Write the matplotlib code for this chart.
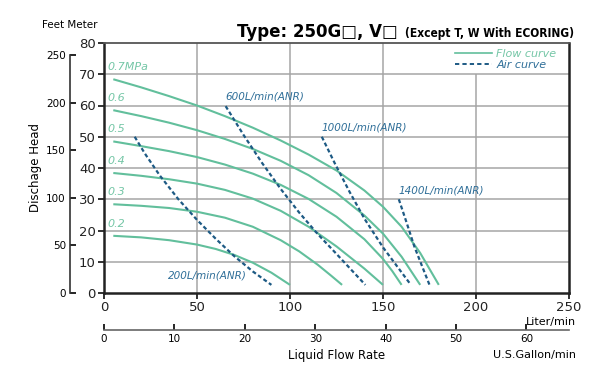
import numpy as np
import matplotlib
matplotlib.use('Agg')
import matplotlib.pyplot as plt
from matplotlib import font_manager
from matplotlib.lines import Line2D

# flow curves (L/min vs m), one per supply pressure
flow_labels = ['0.2', '0.3', '0.4', '0.5', '0.6', '0.7MPa']
flow_q = [
    [5, 20, 35, 50, 60, 70, 80, 90, 100],
    [5, 20, 35, 50, 65, 80, 95, 105, 115, 122, 128],
    [5, 20, 35, 50, 65, 80, 95, 110, 125, 140, 150],
    [5, 20, 35, 50, 65, 80, 95, 110, 125, 140, 150, 155, 160],
    [5, 20, 35, 50, 65, 80, 95, 110, 125, 140, 150, 160, 170],
    [5, 20, 35, 50, 65, 80, 95, 110, 125, 140, 150, 160, 170, 180],
]
flow_h = [
    [18.3, 17.8, 16.9, 15.5, 14.1, 12.2, 9.7, 6.5, 2.6],
    [28.4, 27.9, 27.2, 26.0, 24.1, 21.2, 16.9, 13.3, 9.0, 5.6, 2.6],
    [38.4, 37.5, 36.4, 35.0, 33.0, 30.2, 26.3, 21.2, 14.9, 7.8, 2.6],
    [48.5, 47.0, 45.4, 43.5, 41.1, 38.2, 34.6, 30.1, 24.4, 17.2, 10.9, 7.0, 2.6],
    [58.5, 56.6, 54.5, 52.1, 49.3, 46.1, 42.3, 37.7, 32.0, 24.8, 19.0, 11.6, 2.6],
    [68.4, 65.8, 63.0, 60.0, 56.6, 52.9, 48.8, 44.3, 39.2, 32.8, 27.6, 21.2, 12.8, 2.6],
]

# air consumption curves
air_labels = ['200L/min(ANR)', '600L/min(ANR)', '1000L/min(ANR)', '1400L/min(ANR)']
air_q = [
    [16.5, 22, 30, 40, 50, 60, 70, 80, 90],
    [65.4, 75, 85, 95, 105, 115, 125, 140.5],
    [117.1, 124, 132, 140, 150, 165],
    [158.5, 162.7, 166.9, 171, 175],
]
air_h = [
    [50, 44.6, 37.6, 30.0, 23.4, 17.4, 11.8, 6.9, 2.6],
    [59.8, 50.6, 41.6, 33.3, 25.7, 18.8, 12.5, 2.6],
    [50, 41.6, 32.4, 23.8, 14.6, 2.6],
    [30, 22.5, 14.8, 8.6, 2.6],
]

x_ticks = [0, 50, 100, 150, 200, 250]
y_ticks = [0, 10, 20, 30, 40, 50, 60, 70, 80]
ft_ticks = [0, 50, 100, 150, 200, 250]
gal_ticks = [0, 10, 20, 30, 40, 50, 60]

GREEN = '#62bf9c'
GREEN_TXT = '#74c6a6'
BLUE = '#1d5a84'
BLUE_TXT = '#2e6e98'


def condensed_bold():
    fp = font_manager.FontProperties(family='DejaVu Sans', weight='bold',
                                     stretch='condensed')
    path = font_manager.findfont(fp)
    return 'Condensed' in path


W, H = 600, 382
fig = plt.figure(figsize=(6, 3.82), dpi=100)
ax = fig.add_axes([104 / W, 1 - 293 / H, 465 / W, 250 / H])
ax.set_xlim(0, 250)
ax.set_ylim(0, 80)

# grid
for yv in y_ticks[1:-1]:
    ax.axhline(yv, color='#a5a5a5', lw=1.1, zorder=1)
ax.vlines([50, 100, 150], 0, 80, color='#a5a5a5', lw=1.1, zorder=1)
ax.vlines([200], 0, 70, color='#a5a5a5', lw=1.1, zorder=1)

for q, h in zip(flow_q, flow_h):
    ax.plot(q, h, color=GREEN, lw=1.5, zorder=3, solid_capstyle='butt',
            solid_joinstyle='round')
for lab, q, h in zip(flow_labels, flow_q, flow_h):
    ax.text(q[0] - 3.3, h[0] + 3.9, lab, color=GREEN_TXT, fontsize=8,
            style='italic', ha='left', va='center')

for q, h in zip(air_q, air_h):
    ax.plot(q, h, color=BLUE, lw=1.6, ls=(0, (1.8, 1.2)), zorder=4)
air_text_pos = [(34.4, 5.5), (air_q[1][0], air_h[1][0] + 3.2),
                (air_q[2][0], air_h[2][0] + 2.8), (air_q[3][0], air_h[3][0] + 2.9)]
for lab, (tx, ty) in zip(air_labels, air_text_pos):
    ax.text(tx, ty, lab, color=BLUE_TXT, fontsize=7.5, style='italic',
            ha='left', va='center')

# spines and ticks
for s in ['left', 'bottom', 'right']:
    ax.spines[s].set_linewidth(1.8)
    ax.spines[s].set_color('#222222')
ax.spines['top'].set_linewidth(1.3)
ax.spines['top'].set_color('#555555')
ax.set_xticks(x_ticks)
ax.set_yticks(y_ticks)
ax.tick_params(axis='both', direction='out', length=4, width=1.3, labelsize=9.5,
               colors='#222222', pad=2)

# feet scale
m2ft = 3.28084
sec_y = ax.secondary_yaxis(-34 / 465, functions=(lambda m: m * m2ft, lambda f: f / m2ft))
sec_y.set_yticks(ft_ticks)
sec_y.spines['left'].set_bounds(0, 250)
sec_y.spines['left'].set_linewidth(1.2)
sec_y.spines['left'].set_color('#333333')
sec_y.tick_params(direction='in', length=4, width=1.2, labelsize=7.5, pad=3)

# gallon scale
l2gal = 1 / 3.78541
sec_x = ax.secondary_xaxis(-37 / 250, functions=(lambda l: l * l2gal, lambda g: g / l2gal))
sec_x.set_xticks(gal_ticks)
sec_x.spines['bottom'].set_bounds(0, 250 * l2gal)
sec_x.spines['bottom'].set_linewidth(1.2)
sec_x.spines['bottom'].set_color('#666666')
sec_x.tick_params(direction='in', length=4, width=1.2, labelsize=7.5, pad=3)

# legend
handles = [Line2D([], [], color=GREEN, lw=1.2),
           Line2D([], [], color=BLUE, lw=1.4, ls=(0, (2.2, 1.6)))]
ax.legend(handles, ['Flow curve', 'Air curve'], loc='upper right', frameon=False,
          labelcolor=[GREEN_TXT, BLUE_TXT], prop={'style': 'italic', 'size': 8},
          handlelength=3.3, handletextpad=0.4, labelspacing=0.1,
          borderaxespad=0.2, borderpad=0.3, bbox_to_anchor=(0.985, 1.0))

# texts
fig.text(42 / W, 1 - 25 / H, 'Feet Meter', fontsize=7.5, va='center', ha='left')
fig.text(35 / W, 1 - 168 / H, 'Dischage Head', fontsize=8.5, rotation=90,
         va='center', ha='center')
fig.text(576 / W, 1 - 322 / H, 'Liter/min', fontsize=8, va='center', ha='right')
fig.text(576 / W, 1 - 355 / H, 'U.S.Gallon/min', fontsize=8, va='center', ha='right')
fig.text(337 / W, 1 - 355 / H, 'Liquid Flow Rate', fontsize=8.5, va='center', ha='center')

fig.text(237 / W, 1 - 37 / H, 'Type: 250G□, V□', fontsize=12, fontweight='bold',
         va='baseline', ha='left')
if condensed_bold():
    fig.text(574 / W, 1 - 37 / H, '(Except T, W With ECORING)', fontsize=8.6,
             fontweight='bold', fontstretch='condensed', va='baseline', ha='right')
else:
    fig.text(574 / W, 1 - 37 / H, '(Except T, W With ECORING)', fontsize=7.8,
             fontweight='bold', va='baseline', ha='right')

fig.savefig('out.png', dpi=100)
